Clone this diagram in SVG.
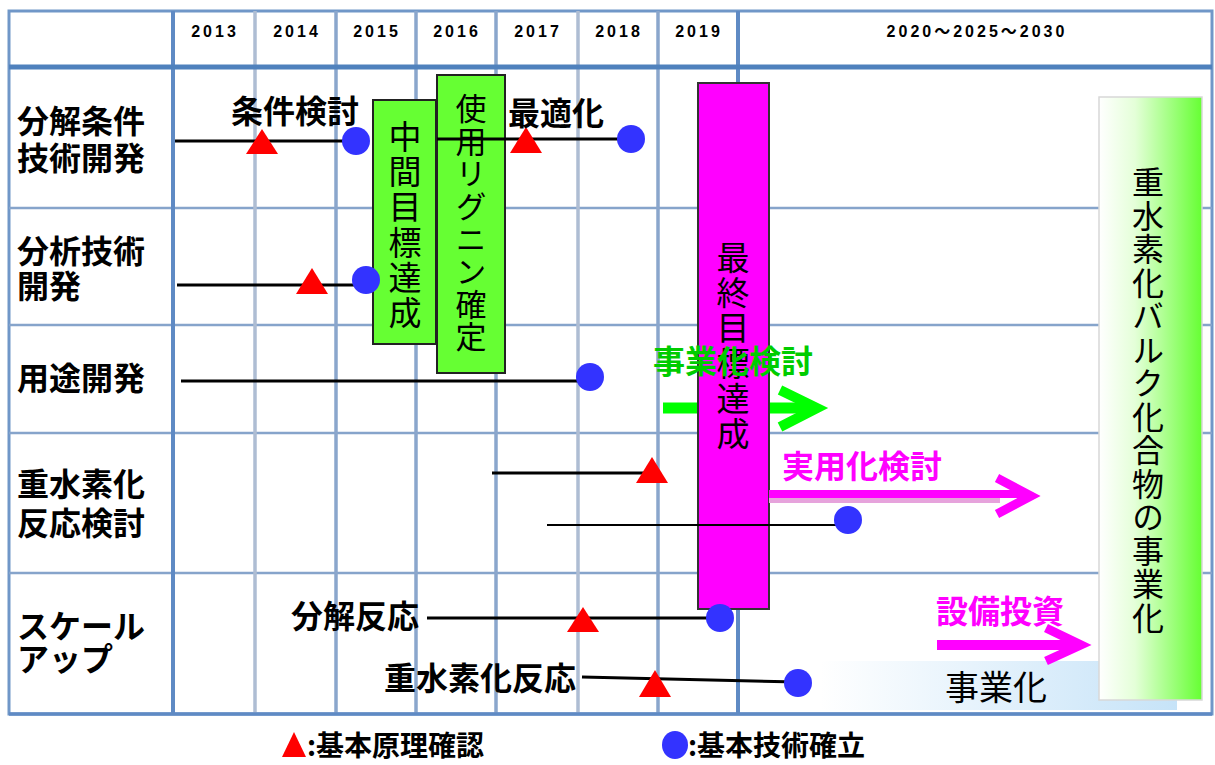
<svg xmlns="http://www.w3.org/2000/svg" width="1215" height="765" viewBox="0 0 1215 765">
<defs>
<style>
.lbl{font-family:"Noto Sans CJK JP","Noto Sans CJK SC",sans-serif;font-weight:bold;font-size:32px;fill:#000}
.yr{font-family:"Liberation Sans","Noto Sans CJK JP",sans-serif;font-weight:bold;font-size:16px;letter-spacing:3px;fill:#000;text-anchor:middle}
.vt{font-family:"Noto Sans CJK JP","Noto Sans CJK SC",sans-serif;font-weight:normal;fill:#000}
.vcol{writing-mode:vertical-rl;text-orientation:upright}
.hl{stroke:#86a4cb;stroke-width:2.5}
.vthick{stroke:#5f8ac4;stroke-width:4}
.vmid{stroke:#8aa6cc;stroke-width:3.5}
.vlight{stroke:#aebdd3;stroke-width:3.5}
.con{stroke:#000;stroke-width:3;fill:none}
.tri{fill:#ff0000}
.dot{fill:#3333ff}
.gbox{fill:#66ff33;stroke:#222;stroke-width:2}
</style>
<linearGradient id="gRight" x1="0" y1="0" x2="1" y2="0">
<stop offset="0" stop-color="#ffffff"/>
<stop offset="0.35" stop-color="#e4ffd8"/>
<stop offset="1" stop-color="#66ff33"/>
</linearGradient>
<linearGradient id="gBlue" x1="0" y1="0" x2="1" y2="0">
<stop offset="0" stop-color="#ffffff"/>
<stop offset="1" stop-color="#c6e3f8"/>
</linearGradient>
</defs>
<rect width="1215" height="765" fill="#fff"/>

<g id="grid">
<rect x="9" y="11" width="1203" height="703" fill="none" stroke="#7097c8" stroke-width="3"/>
<line class="hl" x1="9" y1="208" x2="1212" y2="208"/>
<line class="hl" x1="9" y1="325" x2="1212" y2="325"/>
<line class="hl" x1="9" y1="433" x2="1212" y2="433"/>
<line class="hl" x1="9" y1="573" x2="1212" y2="573"/>
<line class="vthick" x1="173" y1="11" x2="173" y2="714"/>
<line class="vlight" x1="255" y1="11" x2="255" y2="714"/>
<line class="vmid" x1="336" y1="11" x2="336" y2="714"/>
<line class="vmid" x1="416" y1="11" x2="416" y2="714"/>
<line class="vmid" x1="496" y1="11" x2="496" y2="714"/>
<line class="vlight" x1="578" y1="11" x2="578" y2="714"/>
<line class="vmid" x1="658" y1="11" x2="658" y2="714"/>
<line class="vthick" x1="738" y1="11" x2="738" y2="714"/>
<line x1="9" y1="67" x2="1212" y2="67" stroke="#4f81bd" stroke-width="5"/>
<line x1="9" y1="714" x2="1212" y2="714" stroke="#5f8ac4" stroke-width="3.5"/>
</g>

<g id="header">
<text class="yr" x="215" y="37">2013</text>
<text class="yr" x="297" y="37">2014</text>
<text class="yr" x="377" y="37">2015</text>
<text class="yr" x="457" y="37">2016</text>
<text class="yr" x="538" y="37">2017</text>
<text class="yr" x="619" y="37">2018</text>
<text class="yr" x="699" y="37">2019</text>
<text class="yr" x="977" y="37">2020～2025～2030</text>
</g>

<g id="row-labels">
<text class="lbl"><tspan x="17" y="133">分解条件</tspan><tspan x="17" y="170">技術開発</tspan></text>
<text class="lbl"><tspan x="17" y="263">分析技術</tspan><tspan x="17" y="298">開発</tspan></text>
<text class="lbl" x="17" y="390">用途開発</text>
<text class="lbl"><tspan x="17" y="496">重水素化</tspan><tspan x="17" y="535">反応検討</tspan></text>
<text class="lbl"><tspan x="17" y="638">スケール</tspan><tspan x="17" y="671">アップ</tspan></text>
</g>

<g id="jigyouka-band">
<rect x="820" y="661" width="357" height="49" fill="url(#gBlue)"/>
<text class="vt" x="996" y="700" font-size="34" text-anchor="middle">事業化</text>
</g>

<g id="green-arrow">
<line x1="663" y1="408" x2="812" y2="408" stroke="#00ff00" stroke-width="11"/>
<polyline points="780,390 817,408 780,427" fill="none" stroke="#00ff00" stroke-width="10"/>
</g>

<g id="connectors">
<line class="con" x1="175" y1="141" x2="356" y2="141"/>
<line class="con" x1="177" y1="285" x2="366" y2="285"/>
<line class="con" x1="181" y1="381" x2="590" y2="381"/>
<line class="con" x1="492" y1="473" x2="652" y2="473"/>
<line class="con" x1="427" y1="618" x2="720" y2="618"/>
<line class="con" x1="582" y1="677" x2="798" y2="682"/>
</g>

<g id="box-chukan">
<rect class="gbox" x="373" y="100" width="63" height="244"/>
<text class="vt vcol" x="405" y="120" font-size="33" letter-spacing="2.2">中間目標達成</text>
</g>

<g id="box-lignin">
<rect class="gbox" x="437" y="75" width="68" height="298"/>
<text class="vt vcol" x="471" y="93" font-size="31" letter-spacing="1.6">使用リグニン確定</text>
</g>

<g id="connector-optimize">
<line class="con" x1="437" y1="139" x2="631" y2="139"/>
</g>

<g id="box-final">
<rect x="698" y="83" width="71" height="526" fill="#ff00ff" stroke="#333" stroke-width="2"/>
<text class="vt vcol" x="733" y="241" font-size="33" letter-spacing="2.2">最終目標達成</text>
</g>

<g id="connector-row4b">
<line x1="547" y1="525" x2="848" y2="525" stroke="#000" stroke-width="2.2"/>
</g>

<g id="magenta-arrow-1">
<line x1="769" y1="500" x2="1000" y2="500" stroke="#e6a3dc" stroke-width="6"/>
<line x1="769" y1="494" x2="1026" y2="494" stroke="#ff00ff" stroke-width="8"/>
<polyline points="997,478 1031,496 997,514" fill="none" stroke="#ff00ff" stroke-width="9"/>
</g>

<g id="magenta-arrow-2">
<line x1="937" y1="645" x2="1076" y2="645" stroke="#ff00ff" stroke-width="10"/>
<polyline points="1046,628 1081,645 1046,661" fill="none" stroke="#ff00ff" stroke-width="9"/>
</g>

<g id="box-business">
<rect x="1099" y="97" width="103" height="603" fill="url(#gRight)" stroke="#d8d8d8" stroke-width="1.5"/>
<text class="vt vcol" x="1148" y="166" font-size="32" letter-spacing="1.5">重水素化バルク化合物の事業化</text>
</g>

<g id="markers">
<polygon class="tri" points="262,129 278,154 246,154"/>
<polygon class="tri" points="526,127 542,153 510,153"/>
<polygon class="tri" points="312,268 328,294 296,294"/>
<polygon class="tri" points="652,457 668,483 636,483"/>
<polygon class="tri" points="583,607 599,632 567,632"/>
<polygon class="tri" points="655,670 671,697 639,697"/>
<circle class="dot" cx="356" cy="141" r="14"/>
<circle class="dot" cx="631" cy="139" r="14"/>
<circle class="dot" cx="366" cy="280" r="14"/>
<circle class="dot" cx="590" cy="377" r="14"/>
<circle class="dot" cx="848" cy="520" r="14"/>
<circle class="dot" cx="720" cy="618" r="14"/>
<circle class="dot" cx="798" cy="683" r="14"/>
</g>

<g id="labels">
<text class="lbl" x="231" y="123">条件検討</text>
<text class="lbl" x="508" y="125">最適化</text>
<text class="lbl" x="291" y="628">分解反応</text>
<text class="lbl" x="384" y="690">重水素化反応</text>
<text class="lbl" x="653" y="373" style="fill:#00cc00">事業化検討</text>
<text class="lbl" x="782" y="478" style="fill:#ff00ff">実用化検討</text>
<text class="lbl" x="936" y="623" style="fill:#ff00ff">設備投資</text>
</g>

<g id="legend">
<polygon class="tri" points="294,732 306,757 282,757"/>
<text class="lbl" x="307" y="756" style="font-size:28px">:基本原理確認</text>
<ellipse class="dot" cx="675" cy="745" rx="13" ry="14"/>
<text class="lbl" x="688" y="756" style="font-size:28px">:基本技術確立</text>
</g>
</svg>
